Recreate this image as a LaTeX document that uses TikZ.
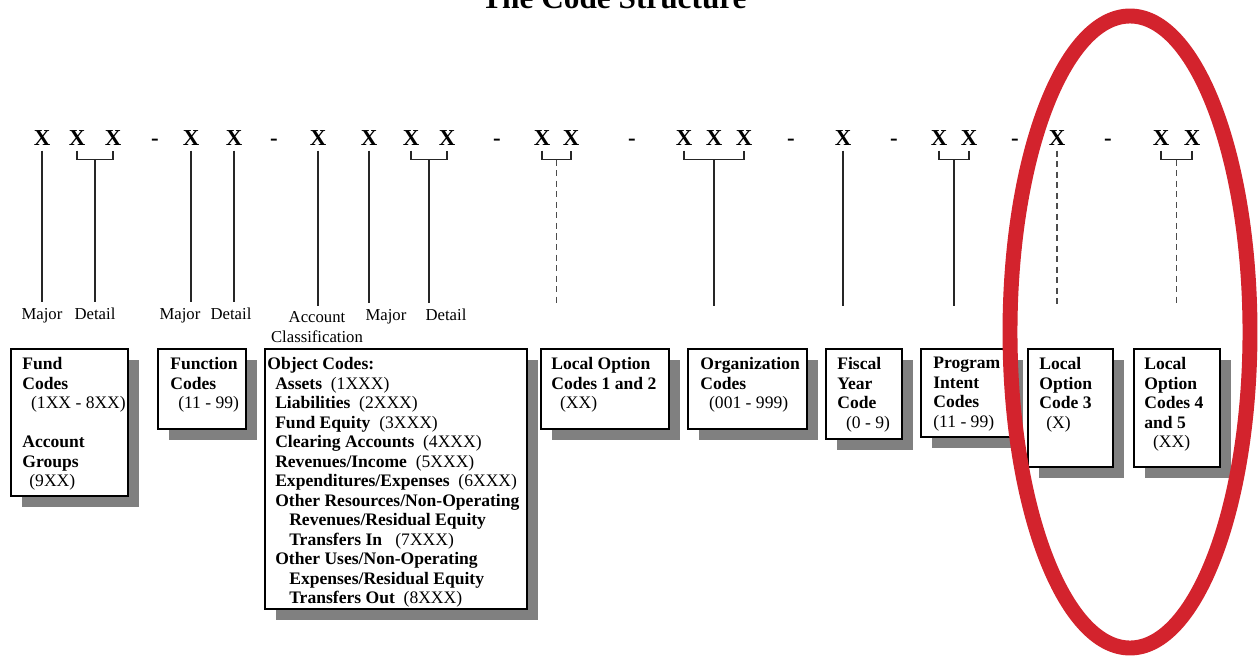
\documentclass[tikz,border=0pt]{standalone}
\usepackage{fontspec}
\setmainfont{Liberation Serif}
\usetikzlibrary{calc}

\definecolor{ringred}{RGB}{211,35,45}
\definecolor{boxgray}{RGB}{128,128,128}

\tikzset{
  xchar/.style={font=\fontsize{13}{13}\selectfont\bfseries, inner xsep=0pt, inner ysep=3pt, anchor=base},
  hyph/.style={font=\fontsize{13}{13}\selectfont\bfseries, inner sep=0pt, anchor=base},
  part/.style={font=\fontsize{9.5}{11.4}\selectfont, inner sep=3pt, anchor=base},
  boxtxt/.style={font=\fontsize{10}{11.1}\selectfont, align=left, anchor=north west, inner sep=0pt},
  stem/.style={draw=black!85, line width=0.6pt},
  optstem/.style={draw=black!70, line width=0.8pt, dash pattern=on 3.5pt off 2.5pt},
  boxline/.style={draw=black, line width=0.7pt, fill=white},
  ring/.style={draw=ringred, line width=8.5pt}
}

% box with a flat shadow, corners given in pixels
\newcommand{\drawcodebox}[4]{%
  \fill[boxgray] (#1+11,#2+11) rectangle (#3+11,#4+11);
  \draw[boxline] (#1,#2) rectangle (#3,#4);}

\begin{document}
\begin{tikzpicture}[x=0.02cm, y=-0.02cm]
  \useasboundingbox (0,0) rectangle (1259,656);

  \node[font=\fontsize{17.8}{20}\selectfont\bfseries, anchor=base] (title) at (614,8) {The Code Structure};

  % the code itself
  \node[xchar] (f1) at (42,145)  {X};
  \node[xchar] (f2) at (77,145)  {X};
  \node[xchar] (f3) at (113,145) {X};
  \node[hyph]  (d1) at (155,145) {-};
  \node[xchar] (n1) at (191,145) {X};
  \node[xchar] (n2) at (234,145) {X};
  \node[hyph]  (d2) at (274,145) {-};
  \node[xchar] (o1) at (318,145) {X};
  \node[xchar] (o2) at (369,145) {X};
  \node[xchar] (o3) at (411,145) {X};
  \node[xchar] (o4) at (447,145) {X};
  \node[hyph]  (d3) at (497,145) {-};
  \node[xchar] (l1) at (542,145) {X};
  \node[xchar] (l2) at (571,145) {X};
  \node[hyph]  (d4) at (632,145) {-};
  \node[xchar] (g1) at (684,145) {X};
  \node[xchar] (g2) at (714,145) {X};
  \node[xchar] (g3) at (744,145) {X};
  \node[hyph]  (d5) at (791,145) {-};
  \node[xchar] (y1) at (843,145) {X};
  \node[hyph]  (d6) at (894,145) {-};
  \node[xchar] (p1) at (939,145) {X};
  \node[xchar] (p2) at (969,145) {X};
  \node[hyph]  (d7) at (1015,145) {-};
  \node[xchar] (c3) at (1057,145) {X};
  \node[hyph]  (d8) at (1108,145) {-};
  \node[xchar] (c4) at (1161,145) {X};
  \node[xchar] (c5) at (1192,145) {X};

  % part names
  \node[part] (fmaj) at (42,319)  {Major};
  \node[part] (fdet) at (95,319)  {Detail};
  \node[part] (nmaj) at (180,319) {Major};
  \node[part] (ndet) at (231,319) {Detail};
  \node[part, anchor=north, align=center] (oacc) at (317,306) {Account\\Classification};
  \node[part] (omaj) at (386,320) {Major};
  \node[part] (odet) at (446,320) {Detail};
  \coordinate (stop) at (0,306);

  % brackets
  \draw[stem] (f2.south) -- ++(0,9) -| (f3.south);
  \draw[stem] (o3.south) -- ++(0,9) -| (o4.south);
  \draw[stem] (l1.south) -- ++(0,9) -| (l2.south);
  \draw[stem] (g1.south) -- ++(0,9) -| (g3.south);
  \draw[stem] (p1.south) -- ++(0,9) -| (p2.south);
  \draw[stem] (c4.south) -- ++(0,9) -| (c5.south);
  \coordinate (fb) at ($(f2.south)!0.5!(f3.south)+(0,9)$);
  \coordinate (ob) at ($(o3.south)!0.5!(o4.south)+(0,9)$);
  \coordinate (lb) at ($(l1.south)!0.5!(l2.south)+(0,9)$);
  \coordinate (gb) at ($(g1.south)!0.5!(g3.south)+(0,9)$);
  \coordinate (pb) at ($(p1.south)!0.5!(p2.south)+(0,9)$);
  \coordinate (cb) at ($(c4.south)!0.5!(c5.south)+(0,9)$);

  % stems down to the names
  \draw[stem] (f1.south) -- (f1.south |- fmaj.north);
  \draw[stem] (fb) -- (fb |- fdet.north);
  \draw[stem] (n1.south) -- (n1.south |- nmaj.north);
  \draw[stem] (n2.south) -- (n2.south |- ndet.north);
  \draw[stem] (o1.south) -- (o1.south |- oacc.north);
  \draw[stem] (o2.south) -- (o2.south |- omaj.north);
  \draw[stem] (ob) -- (ob |- odet.north);
  \draw[optstem] (lb) -- (lb |- stop);
  \draw[stem] (gb) -- (gb |- stop);
  \draw[stem] (y1.south) -- (y1.south |- stop);
  \draw[stem] (pb) -- (pb |- stop);
  \draw[optstem] (c3.south) -- (c3.south |- stop);
  \draw[optstem] (cb) -- (cb |- stop);

  % boxes
  \drawcodebox{11}{349}{128}{496}
  \drawcodebox{158}{349}{246}{429}
  \drawcodebox{265}{349}{527}{609}
  \drawcodebox{541}{349}{669}{429}
  \drawcodebox{688}{349}{807}{429}
  \drawcodebox{826}{349}{902}{439}
  \drawcodebox{921}{349}{1012}{437}
  \drawcodebox{1028}{349}{1113}{467}
  \drawcodebox{1134}{349}{1220}{467}

  \node[boxtxt] (fund) at (22,357) {\textbf{Fund}\\ \textbf{Codes}\\ \hspace*{5pt}(1XX - 8XX)\\[11.1pt]
    \textbf{Account}\\ \textbf{Groups}\\ \hspace*{4pt}(9XX)};
  \node[boxtxt] (func) at (170,357) {\textbf{Function}\\ \textbf{Codes}\\ \hspace*{4.5pt}(11 - 99)};
  \node[boxtxt] (obj) at (267,357) {\textbf{Object Codes:}\\
    \hspace*{4.5pt}\textbf{Assets}~~(1XXX)\\
    \hspace*{4.5pt}\textbf{Liabilities}~~(2XXX)\\
    \hspace*{4.5pt}\textbf{Fund Equity}~~(3XXX)\\
    \hspace*{4.5pt}\textbf{Clearing Accounts}~~(4XXX)\\
    \hspace*{4.5pt}\textbf{Revenues/Income}~~(5XXX)\\
    \hspace*{4.5pt}\textbf{Expenditures/Expenses}~~(6XXX)\\
    \hspace*{4.5pt}\textbf{Other Resources/Non-Operating}\\
    \hspace*{12.5pt}\textbf{Revenues/Residual Equity}\\
    \hspace*{12.5pt}\textbf{Transfers In}~~~(7XXX)\\
    \hspace*{4.5pt}\textbf{Other Uses/Non-Operating}\\
    \hspace*{12.5pt}\textbf{Expenses/Residual Equity}\\
    \hspace*{12.5pt}\textbf{Transfers Out}~~(8XXX)};
  \node[boxtxt] (lopt) at (551,357) {\textbf{Local Option}\\ \textbf{Codes 1 and 2}\\ \hspace*{5pt}(XX)};
  \node[boxtxt] (org) at (700,357) {\textbf{Organization}\\ \textbf{Codes}\\ \hspace*{5pt}(001 - 999)};
  \node[boxtxt] (fisc) at (837,357) {\textbf{Fiscal}\\ \textbf{Year}\\ \textbf{Code}\\ \hspace*{5pt}(0 - 9)};
  \node[boxtxt] (prog) at (933,357) {\textbf{Program}\\ \textbf{Intent}\\ \textbf{Codes}\\ (11 - 99)};
  \node[boxtxt] (lthree) at (1039,357) {\textbf{Local}\\ \textbf{Option}\\ \textbf{Code 3}\\ \hspace*{4pt}(X)};
  \node[boxtxt] (lfour) at (1144,357) {\textbf{Local}\\ \textbf{Option}\\ \textbf{Codes 4}\\ \textbf{and 5}\\ \hspace*{5pt}(XX)};

  % ring round the last two parts
  \draw[ring] (1130,332) ellipse [x radius=120, y radius=316];
\end{tikzpicture}
\end{document}
